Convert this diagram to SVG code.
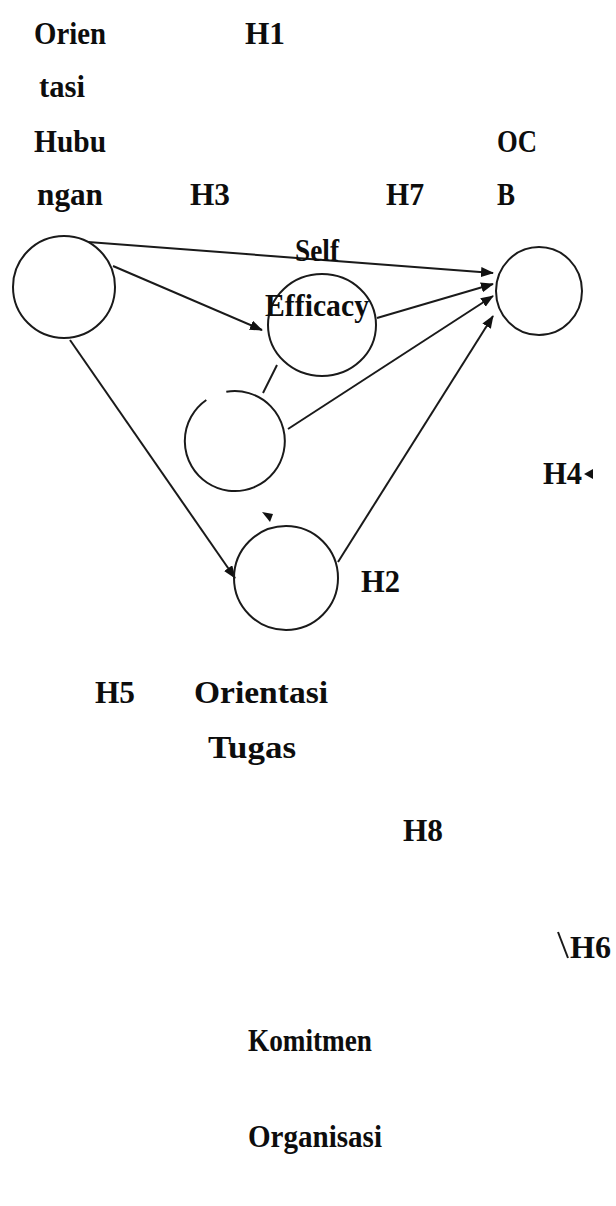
<svg xmlns="http://www.w3.org/2000/svg" width="616" height="1206" viewBox="0 0 616 1206">
  <style>
    .node { fill: none; stroke: #1a1a1a; stroke-width: 2; }
    .edge { fill: none; stroke: #1a1a1a; stroke-width: 2; }
    .lbl { font-family: "Liberation Serif", "Times New Roman", serif; font-weight: bold; fill: #0d0d0d; font-size: 32px; }
    .tip { fill: #111; }
  </style>
  <defs>
    <marker id="arrow" markerUnits="userSpaceOnUse" markerWidth="14" markerHeight="12" refX="12" refY="5" orient="auto">
      <path d="M0,0 L13,5 L0,10 Z" class="tip"/>
    </marker>
  </defs>

  <rect width="616" height="1206" fill="#fff"/>

  <!-- connectors -->
  <g id="connectors">
    <line class="edge" x1="88" y1="242" x2="493" y2="273" marker-end="url(#arrow)"/>
    <line class="edge" x1="113" y1="266" x2="262" y2="330" marker-end="url(#arrow)"/>
    <line class="edge" x1="70" y1="340" x2="235" y2="578" marker-end="url(#arrow)"/>
    <line class="edge" x1="377" y1="318" x2="493" y2="284" marker-end="url(#arrow)"/>
    <line class="edge" x1="288" y1="429" x2="493" y2="296" marker-end="url(#arrow)"/>
    <line class="edge" x1="338" y1="562" x2="493" y2="316" marker-end="url(#arrow)"/>
    <line class="edge" x1="277" y1="365" x2="263" y2="393"/>
    <line class="edge" x1="558" y1="932" x2="568" y2="958" stroke-width="3"/>
    <polygon class="tip" points="262,512 273,514 270,522"/>
    <polygon class="tip" points="584,474 593,469 593,479"/>
  </g>

  <!-- Orientasi Hubungan -->
  <g id="orientasi-hubungan">
    <circle class="node" cx="64" cy="287" r="51"/>
    <text class="lbl" x="34" y="44" textLength="72" lengthAdjust="spacingAndGlyphs">Orien</text>
    <text class="lbl" x="39" y="97" textLength="46" lengthAdjust="spacingAndGlyphs">tasi</text>
    <text class="lbl" x="34" y="152" textLength="72" lengthAdjust="spacingAndGlyphs">Hubu</text>
    <text class="lbl" x="37" y="205" textLength="66" lengthAdjust="spacingAndGlyphs">ngan</text>
  </g>

  <!-- Self Efficacy -->
  <g id="self-efficacy">
    <ellipse class="node" cx="322" cy="325" rx="54" ry="51"/>
    <text class="lbl" x="295" y="261" textLength="44" lengthAdjust="spacingAndGlyphs">Self</text>
    <text class="lbl" x="265" y="316" textLength="104" lengthAdjust="spacingAndGlyphs">Efficacy</text>
  </g>

  <!-- OCB -->
  <g id="ocb">
    <ellipse class="node" cx="539" cy="291" rx="43" ry="44"/>
    <text class="lbl" x="497" y="152" textLength="40" lengthAdjust="spacingAndGlyphs">OC</text>
    <text class="lbl" x="497" y="205" textLength="18" lengthAdjust="spacingAndGlyphs">B</text>
  </g>

  <!-- Komitmen Organisasi -->
  <g id="komitmen-organisasi">
    <path class="node" d="M226.3,391.8 A50,50 0 1 1 206.3,400.0"/>
    <text class="lbl" x="248" y="1051" textLength="124" lengthAdjust="spacingAndGlyphs">Komitmen</text>
    <text class="lbl" x="248" y="1147" textLength="134" lengthAdjust="spacingAndGlyphs">Organisasi</text>
  </g>

  <!-- Orientasi Tugas -->
  <g id="orientasi-tugas">
    <circle class="node" cx="286" cy="578" r="52"/>
    <text class="lbl" x="194" y="703" textLength="134" lengthAdjust="spacingAndGlyphs">Orientasi</text>
    <text class="lbl" x="208" y="758" textLength="88" lengthAdjust="spacingAndGlyphs">Tugas</text>
  </g>

  <!-- hypothesis labels -->
  <g id="hypotheses">
    <text class="lbl" x="245" y="44" textLength="40" lengthAdjust="spacingAndGlyphs">H1</text>
    <text class="lbl" x="190" y="205" textLength="40" lengthAdjust="spacingAndGlyphs">H3</text>
    <text class="lbl" x="386" y="205" textLength="38" lengthAdjust="spacingAndGlyphs">H7</text>
    <text class="lbl" x="543" y="484" textLength="39" lengthAdjust="spacingAndGlyphs">H4</text>
    <text class="lbl" x="361" y="592" textLength="39" lengthAdjust="spacingAndGlyphs">H2</text>
    <text class="lbl" x="95" y="703" textLength="40" lengthAdjust="spacingAndGlyphs">H5</text>
    <text class="lbl" x="403" y="841" textLength="40" lengthAdjust="spacingAndGlyphs">H8</text>
    <text class="lbl" x="570" y="958" textLength="41" lengthAdjust="spacingAndGlyphs">H6</text>
  </g>
</svg>
